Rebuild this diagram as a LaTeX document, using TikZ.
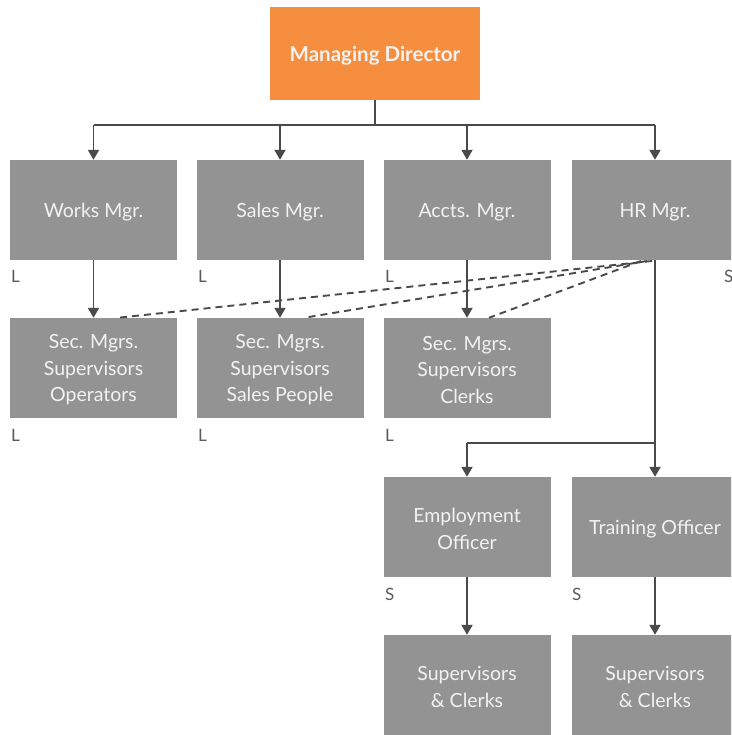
\documentclass[tikz,border=0pt]{standalone}
\usepackage{fontspec}
\setmainfont{Lato}
\usetikzlibrary{arrows.meta}
\definecolor{mdorange}{HTML}{F68E3F}
\definecolor{boxgray}{HTML}{939393}
\definecolor{linegray}{HTML}{4A4A4A}
\definecolor{boxtext}{HTML}{F2F2F2}
\definecolor{tagtext}{HTML}{5A5A5A}
\begin{document}
\begin{tikzpicture}[x=1pt,y=-1pt,
  post/.style={fill=boxgray,draw=none,minimum width=167pt,minimum height=100pt,
    inner sep=0pt,text=boxtext,align=center,
    font=\fontsize{19.5}{26.5}\selectfont},
  head/.style={fill=mdorange,draw=none,minimum width=210pt,minimum height=93pt,
    inner sep=0pt,text=boxtext,font=\fontsize{20.5}{24}\selectfont\bfseries},
  caption/.style={yshift=-2pt,inner sep=0pt,align=center,text=boxtext},
  link/.style={draw=linegray,line width=1.9pt,-{Triangle[length=10pt,width=11pt]}},
  plain/.style={draw=linegray,line width=1.9pt},
  dotted link/.style={draw=linegray,line width=1.9pt,dash pattern=on 7pt off 5pt},
  tag/.style={text=tagtext,anchor=west,inner sep=0pt,font=\fontsize{17}{19}\selectfont}]
\useasboundingbox (0,0) rectangle (731,735);
\clip (0,0) rectangle (731,735);

% top of the chart
\node[head] (md) at (375,53.5) {};
\node[caption,font=\fontsize{20.5}{24}\selectfont\bfseries] (mdt) at (md) {Managing Director};

% managers
\node[post] (works) at (93.5,210) {};
\node[post] (sales) at (280,210) {};
\node[post] (accts) at (467,210) {};
\node[post] (hr)    at (655,210) {};

% staff under the line managers
\node[post] (secw) at (93.5,368) {};
\node[post] (secs) at (280,368) {};
\node[post] (seca) at (467,368) {};

% HR officers
\node[post] (emp)   at (467,527) {};
\node[post] (train) at (655,527) {};

\node[post] (supe) at (467,685) {};
\node[post] (supt) at (655,685) {};

% box captions, set a little below the geometric centre
\begin{scope}[every node/.append style={caption,font=\fontsize{19.5}{26.5}\selectfont}]
\node (worksT) at (works) {Works Mgr.};
\node (salesT) at (sales) {Sales Mgr.};
\node (acctsT) at (accts) {Accts. Mgr.};
\node (hrT)    at (hr)    {HR Mgr.};
\node (secwT)  at (secw)  {Sec. Mgrs.\\Supervisors\\Operators};
\node (secsT)  at (secs)  {Sec. Mgrs.\\Supervisors\\Sales People};
\node (secaT)  at (seca)  {Sec. Mgrs.\\Supervisors\\Clerks};
\node (empT)   at (emp)   {Employment\\Officer};
\node (trainT) at (train) {Training Officer};
\node (supeT)  at (supe)  {Supervisors\\\& Clerks};
\node (suptT)  at (supt)  {Supervisors\\\& Clerks};
\end{scope}

% line / staff tags
\node[tag] (tw)  at (11,276) {L};
\node[tag] (ts)  at (198,276) {L};
\node[tag] (ta)  at (385,276) {L};
\node[tag] (th)  at (724,276) {S};
\node[tag] (tsw) at (11,435) {L};
\node[tag] (tss) at (198,435) {L};
\node[tag] (tsa) at (385,435) {L};
\node[tag] (te)  at (385,594) {S};
\node[tag] (tt)  at (572,594) {S};

% bus from the managing director
\coordinate (bus) at (375,125);
\draw[plain] (md.south) -- (bus);
\draw[plain] (works.north |- bus) -- (hr.north |- bus);
\foreach \n in {works,sales,accts,hr}
  \draw[link] (\n.north |- bus) -- (\n.north);

% line authority
\draw[link] (works.south) -- (secw.north);
\draw[link] (sales.south) -- (secs.north);
\draw[link] (accts.south) -- (seca.north);

% functional (staff) authority of HR
\coordinate (hw) at (652,261);
\coordinate (hs) at (647,261);
\coordinate (ha) at (641,261);
\draw[dotted link] (hw) -- ([xshift=24pt]secw.north);
\draw[dotted link] (hs) -- ([xshift=24pt]secs.north);
\draw[dotted link] (ha) -- ([xshift=22pt]seca.north);

% HR officers
\coordinate (split) at (655,443);
\draw[plain] (hr.south) -- (split);
\draw[plain] (split) -- (emp.north |- split);
\draw[link] (emp.north |- split) -- (emp.north);
\draw[link] (split) -- (train.north);
\draw[link] (emp.south) -- (supe.north);
\draw[link] (train.south) -- (supt.north);
\end{tikzpicture}
\end{document}
